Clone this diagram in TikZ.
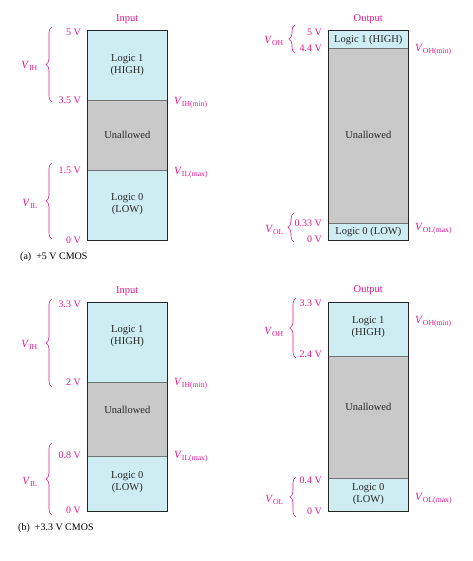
\documentclass[tikz,border=0pt]{standalone}
\usepackage{fontspec}
\setmainfont{Liberation Serif}
\usetikzlibrary{decorations.pathreplacing}
\definecolor{mag}{HTML}{E6198A}
\definecolor{cyanfill}{HTML}{CDEDF3}
\definecolor{grayfill}{HTML}{C9C9C9}
\begin{document}
\begin{tikzpicture}[x=1pt,y=-1pt,
 region/.style={rectangle, inner sep=0pt, minimum width=80pt},
 hi/.style={region, fill=cyanfill},
 mid/.style={region, fill=grayfill},
 rtext/.style={align=center, font=\fontsize{10.5}{12}\selectfont, text=black!85, inner sep=0pt},
 border/.style={draw=black!85, line width=1.1pt},
 divider/.style={draw=black!55, line width=0.8pt},
 volt/.style={text=mag, font=\fontsize{10}{12}\selectfont, anchor=east, inner sep=0pt},
 vname/.style={text=mag, font=\fontsize{11}{12}\selectfont, inner sep=0pt},
 ttl/.style={text=mag, font=\fontsize{10.5}{12}\selectfont, inner sep=0pt},
 captxt/.style={anchor=west, font=\fontsize{10}{12}\selectfont, inner sep=0pt},
 brc/.style={draw=mag, line width=0.6pt, decorate, decoration={brace, amplitude=6pt}},
]
\useasboundingbox (0,0) rectangle (472,561);

% ===== Panel (a) Input =====
\node[hi, minimum height=69.3pt] (aIH) at (127.3,65.35) {};
\node[mid, minimum height=70pt] (aIU) at (127.3,135) {};
\node[hi, minimum height=70pt] (aIL) at (127.3,205) {};
\draw[divider] (aIH.south west) -- (aIH.south east);
\draw[divider] (aIU.south west) -- (aIU.south east);
\draw[border] (aIH.north west) rectangle (aIL.south east);
\node[rtext] (aIHt) at (127.3,65) {Logic 1\\(HIGH)};
\node[rtext] (aIUt) at (127.3,135) {Unallowed};
\node[rtext] (aILt) at (127.3,204) {Logic 0\\(LOW)};
\node[ttl] (aIT) at (127.3,19) {Input};
\node[volt] (aI1) at (81,32) {5 V};
\node[volt] (aI2) at (81,100.5) {3.5 V};
\node[volt] (aI3) at (81,170.5) {1.5 V};
\node[volt] (aI4) at (81,240) {0 V};
\coordinate (aB1t) at (52,27); \coordinate (aB1b) at (52,102);
\draw[brc] (aB1b) -- (aB1t);
\coordinate (aB2t) at (52,163); \coordinate (aB2b) at (52,239);
\draw[brc] (aB2b) -- (aB2t);
\node[vname, anchor=east] (aVIH) at (38,66) {\textit{V}\textsubscript{IH}};
\node[vname, anchor=east] (aVIL) at (38,204) {\textit{V}\textsubscript{IL}};
\node[vname, anchor=west] (aVIHm) at (174,103) {\textit{V}\textsubscript{IH(min)}};
\node[vname, anchor=west] (aVILm) at (174,173) {\textit{V}\textsubscript{IL(max)}};
\node[captxt] (capA) at (20,257) {(a)\ \ +5 V CMOS};

% ===== Panel (a) Output =====
\node[hi, minimum height=17pt] (aOH) at (368.3,39.5) {};
\node[mid, minimum height=175pt] (aOU) at (368.3,135.5) {};
\node[hi, minimum height=17pt] (aOL) at (368.3,231.5) {};
\draw[divider] (aOH.south west) -- (aOH.south east);
\draw[divider] (aOU.south west) -- (aOU.south east);
\draw[border] (aOH.north west) rectangle (aOL.south east);
\node[rtext] (aOHt) at (368.3,39.5) {Logic 1 (HIGH)};
\node[rtext] (aOUt) at (368.3,135) {Unallowed};
\node[rtext] (aOLt) at (368.3,231.5) {Logic 0 (LOW)};
\node[ttl] (aOT) at (368.3,19) {Output};
\node[volt] (aO1) at (322,32) {5 V};
\node[volt] (aO2) at (322,48) {4.4 V};
\node[volt] (aO3) at (322,223) {0.33 V};
\node[volt] (aO4) at (322,239.5) {0 V};
\coordinate (aB3t) at (295,25); \coordinate (aB3b) at (295,53);
\draw[brc] (aB3b) -- (aB3t);
\coordinate (aB4t) at (294,213); \coordinate (aB4b) at (294,242);
\draw[brc] (aB4b) -- (aB4t);
\node[vname, anchor=east] (aVOH) at (284,41) {\textit{V}\textsubscript{OH}};
\node[vname, anchor=east] (aVOL) at (284,230) {\textit{V}\textsubscript{OL}};
\node[vname, anchor=west] (aVOHm) at (415,50) {\textit{V}\textsubscript{OH(min)}};
\node[vname, anchor=west] (aVOLm) at (415,229) {\textit{V}\textsubscript{OL(max)}};

% ===== Panel (b) Input =====
\node[hi, minimum height=79.4pt] (bIH) at (127.3,342) {};
\node[mid, minimum height=74pt] (bIU) at (127.3,418.7) {};
\node[hi, minimum height=55.3pt] (bIL) at (127.3,483.35) {};
\draw[divider] (bIH.south west) -- (bIH.south east);
\draw[divider] (bIU.south west) -- (bIU.south east);
\draw[border] (bIH.north west) rectangle (bIL.south east);
\node[rtext] (bIHt) at (127.3,336) {Logic 1\\(HIGH)};
\node[rtext] (bIUt) at (127.3,410) {Unallowed};
\node[rtext] (bILt) at (127.3,482) {Logic 0\\(LOW)};
\node[ttl] (bIT) at (127.3,290.7) {Input};
\node[volt] (bI1) at (81,304) {3.3 V};
\node[volt] (bI2) at (81,382.7) {2 V};
\node[volt] (bI3) at (81,455.5) {0.8 V};
\node[volt] (bI4) at (81,510.5) {0 V};
\coordinate (bB1t) at (52,299); \coordinate (bB1b) at (52,387);
\draw[brc] (bB1b) -- (bB1t);
\coordinate (bB2t) at (52,443); \coordinate (bB2b) at (52,515);
\draw[brc] (bB2b) -- (bB2t);
\node[vname, anchor=east] (bVIH) at (38,345) {\textit{V}\textsubscript{IH}};
\node[vname, anchor=east] (bVIL) at (38,482) {\textit{V}\textsubscript{IL}};
\node[vname, anchor=west] (bVIHm) at (174,383.5) {\textit{V}\textsubscript{IH(min)}};
\node[vname, anchor=west] (bVILm) at (174,457) {\textit{V}\textsubscript{IL(max)}};
\node[captxt] (capB) at (18,528) {(b)\ \ +3.3 V CMOS};

% ===== Panel (b) Output =====
\node[hi, minimum height=53.4pt] (bOH) at (368.3,329) {};
\node[mid, minimum height=122.6pt] (bOU) at (368.3,417) {};
\node[hi, minimum height=32.7pt] (bOL) at (368.3,494.65) {};
\draw[divider] (bOH.south west) -- (bOH.south east);
\draw[divider] (bOU.south west) -- (bOU.south east);
\draw[border] (bOH.north west) rectangle (bOL.south east);
\node[rtext] (bOHt) at (368.3,327) {Logic 1\\(HIGH)};
\node[rtext] (bOUt) at (368.3,407) {Unallowed};
\node[rtext] (bOLt) at (368.3,494) {Logic 0\\(LOW)};
\node[ttl] (bOT) at (368.3,290) {Output};
\node[volt] (bO1) at (322,303.5) {3.3 V};
\node[volt] (bO2) at (322,354) {2.4 V};
\node[volt] (bO3) at (322,480) {0.4 V};
\node[volt] (bO4) at (322,511) {0 V};
\coordinate (bB3t) at (296,298); \coordinate (bB3b) at (296,358);
\draw[brc] (bB3b) -- (bB3t);
\coordinate (bB4t) at (296,477); \coordinate (bB4b) at (296,517);
\draw[brc] (bB4b) -- (bB4t);
\node[vname, anchor=east] (bVOH) at (284,332) {\textit{V}\textsubscript{OH}};
\node[vname, anchor=east] (bVOL) at (284,500) {\textit{V}\textsubscript{OL}};
\node[vname, anchor=west] (bVOHm) at (415,322) {\textit{V}\textsubscript{OH(min)}};
\node[vname, anchor=west] (bVOLm) at (415,498.5) {\textit{V}\textsubscript{OL(max)}};
\end{tikzpicture}
\end{document}
